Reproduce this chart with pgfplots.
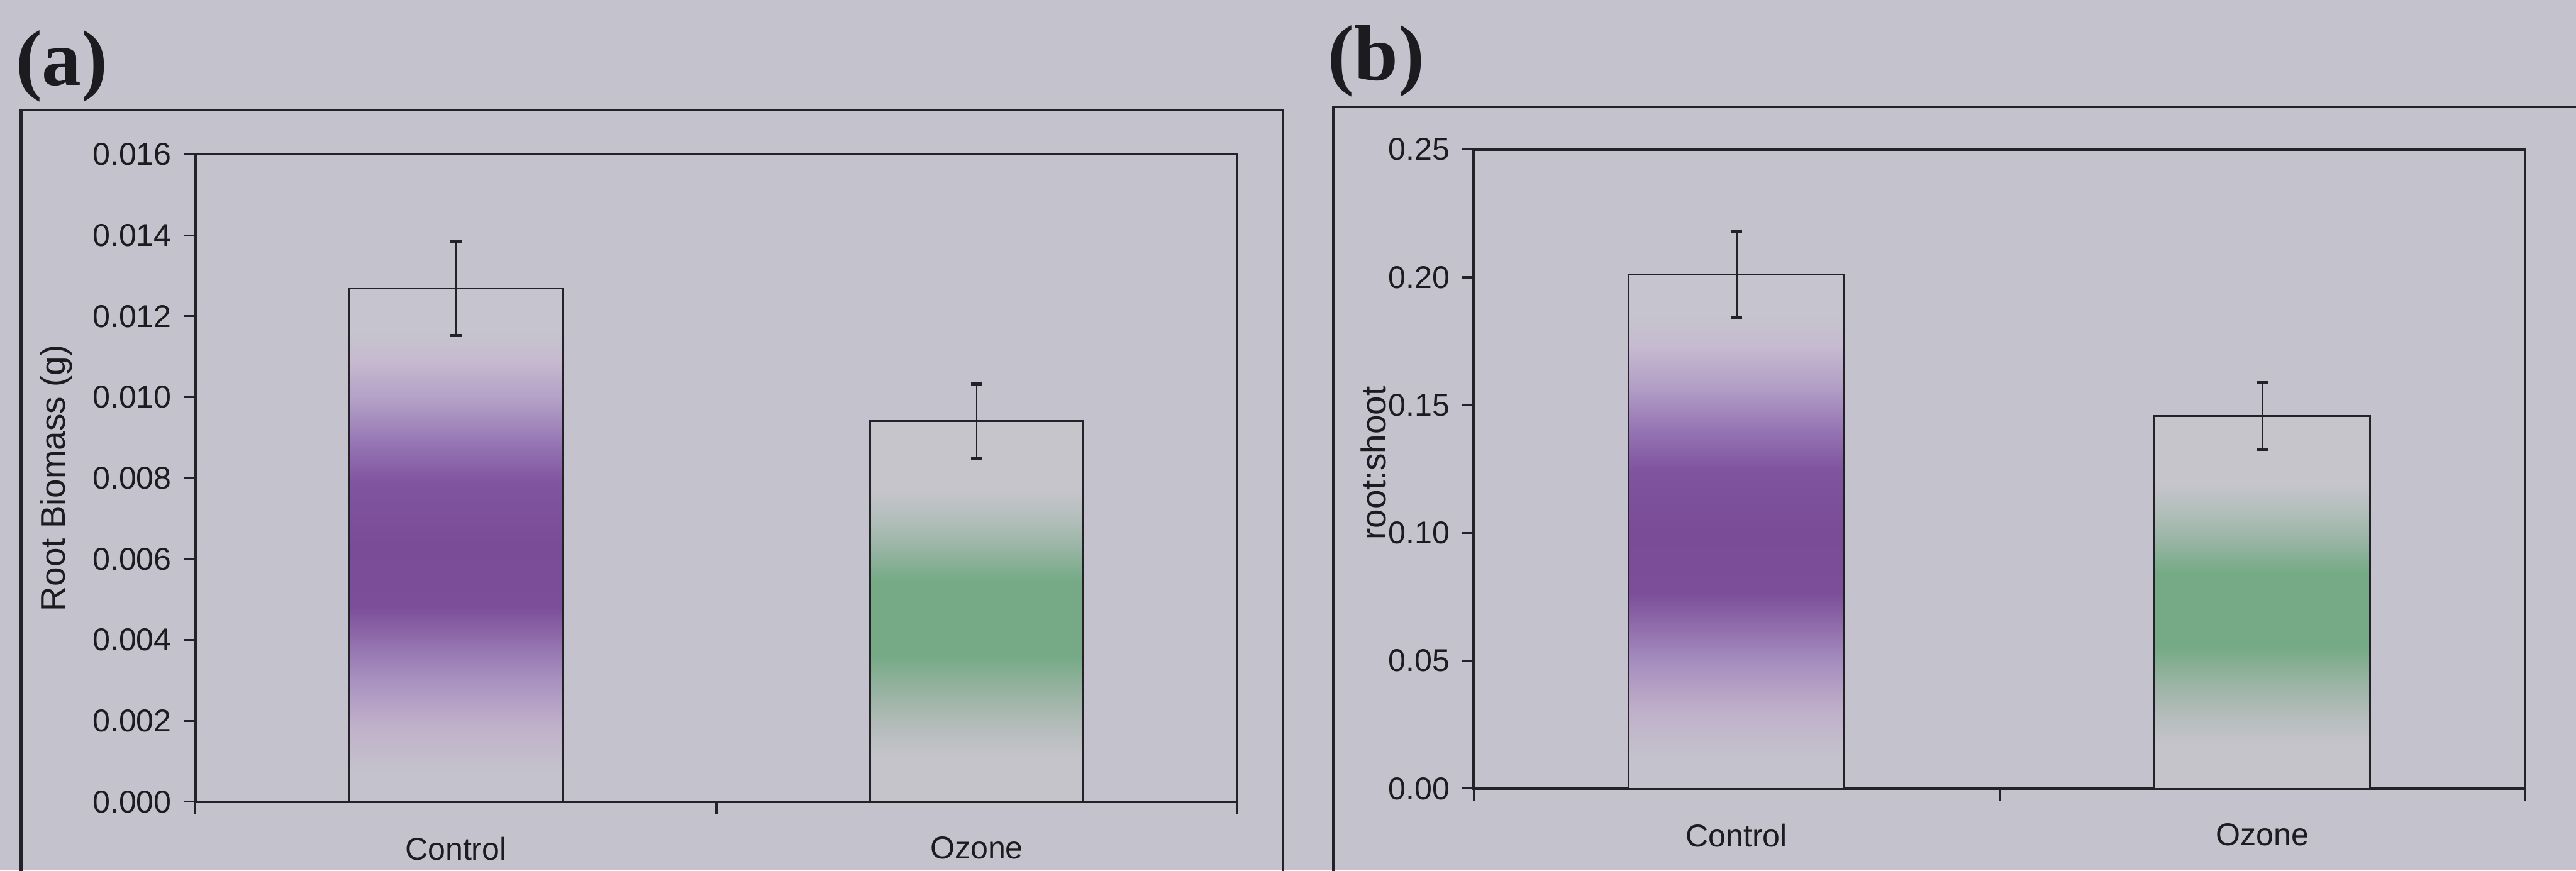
\documentclass[border=0pt]{standalone}
\usepackage{fontspec}
\setmainfont{Liberation Sans}
\newfontfamily\timesfont{Liberation Serif}
\usepackage{pgfplots}
\pgfplotsset{compat=1.18}
\definecolor{bgc}{RGB}{196,194,205}
\definecolor{linec}{RGB}{35,34,40}
\definecolor{txtc}{RGB}{28,28,32}
\pgfdeclareverticalshading{purplebar}{100bp}{%
 rgb(0bp)=(0.769,0.761,0.800);
 rgb(28bp)=(0.769,0.761,0.800);
 rgb(32.5bp)=(0.753,0.690,0.792);
 rgb(37.5bp)=(0.647,0.549,0.745);
 rgb(44bp)=(0.486,0.306,0.600);
 rgb(50bp)=(0.478,0.298,0.596);
 rgb(56bp)=(0.502,0.329,0.620);
 rgb(60bp)=(0.588,0.463,0.706);
 rgb(64bp)=(0.698,0.620,0.776);
 rgb(68bp)=(0.776,0.729,0.816);
 rgb(71bp)=(0.776,0.769,0.808);
 rgb(100bp)=(0.776,0.769,0.808)}
\pgfdeclareverticalshading{greenbar}{100bp}{%
 rgb(0bp)=(0.769,0.769,0.792);
 rgb(31bp)=(0.769,0.769,0.792);
 rgb(35bp)=(0.706,0.737,0.729);
 rgb(39bp)=(0.608,0.706,0.647);
 rgb(44bp)=(0.463,0.667,0.525);
 rgb(54bp)=(0.463,0.667,0.525);
 rgb(58bp)=(0.588,0.706,0.635);
 rgb(62bp)=(0.698,0.745,0.729);
 rgb(66bp)=(0.776,0.773,0.800);
 rgb(100bp)=(0.776,0.773,0.800)}
\pgfplotsset{
 base/.style={
   scale only axis,
   xmin=0, xmax=2,
   xtick={0,1,2}, xticklabels={\empty,\empty,\empty},
   extra x ticks={0.5,1.5}, extra x tick labels={Control,Ozone},
   extra x tick style={major tick length=0pt},
   xtick pos=bottom, ytick pos=left,
   tick align=outside,
   major tick length=3.6pt,
   axis line style={linec, line width=0.75pt},
   every tick/.style={linec, line width=0.6pt},
   /pgf/number format/assume math mode=true,
   tick label style={font=\fontsize{9.6}{11}\selectfont, text=txtc},
   yticklabel style={anchor=east, inner sep=0pt, xshift=-3.5pt},
   xticklabel style={anchor=north, inner sep=0pt, yshift=-10.5pt},
   label style={font=\fontsize{10.5}{12}\selectfont, text=txtc},
   ylabel style={anchor=center},
   scaled y ticks=false,
 },
 bar/.style={ybar, bar width=0.41, bar shift=0pt, draw=linec, line width=0.5pt, shade},
 errs/.style={draw=none, mark=none, error bars/.cd, y dir=both, y explicit,
   error mark=|,
   error bar style={draw=linec, line width=0.55pt, solid},
   error mark options={draw=linec, line width=0.9pt, mark size=1.7pt}},
}
\begin{document}
\begin{tikzpicture}[x=1pt,y=1pt]
\useasboundingbox (0,0) rectangle (784,265);
\fill[bgc] (0,0) rectangle (784,265);
\draw[linec, line width=0.8pt] (6.4,-5) -- (6.4,231.5) -- (390.5,231.5) -- (390.5,-5);
\draw[linec, line width=0.8pt] (405.8,-5) -- (405.8,232.5) -- (790,232.5);
\node[anchor=base west, inner sep=0pt, text=txtc, font=\timesfont\bfseries\fontsize{24}{28}\selectfont] at (4.6,239.1) {(a)};
\node[anchor=base west, inner sep=0pt, text=txtc, font=\timesfont\bfseries\fontsize{24}{28}\selectfont] at (404,240.6) {(b)};

\begin{axis}[base, at={(59.5pt,21pt)}, anchor=south west, width=317pt, height=197pt,
  ymin=0, ymax=0.016, ytick={0,0.002,0.004,0.006,0.008,0.010,0.012,0.014,0.016},
  yticklabel style={/pgf/number format/.cd, fixed, fixed zerofill, precision=3},
  ylabel={Root Biomass (g)},
  ylabel style={at={(axis description cs:-0.134,0.5)}}]
\addplot[bar, shading=purplebar] coordinates {(0.5,0.01268)};
\addplot[bar, shading=greenbar] coordinates {(1.5,0.00941)};
\addplot[errs] coordinates {(0.5,0.01268) +- (0,0.00116) (1.5,0.00941) +- (0,0.00092)};
\end{axis}

\begin{axis}[base, at={(448.5pt,25pt)}, anchor=south west, width=320pt, height=194.5pt,
  ymin=0, ymax=0.25, ytick={0,0.05,0.10,0.15,0.20,0.25},
  yticklabel style={/pgf/number format/.cd, fixed, fixed zerofill, precision=2},
  ylabel={root:shoot},
  ylabel style={at={(axis description cs:-0.0953,0.509)}}]
\addplot[bar, shading=purplebar] coordinates {(0.5,0.2011)};
\addplot[bar, shading=greenbar] coordinates {(1.5,0.1457)};
\addplot[errs] coordinates {(0.5,0.2011) +- (0,0.0170) (1.5,0.1457) +- (0,0.0130)};
\end{axis}
\end{tikzpicture}
\end{document}
